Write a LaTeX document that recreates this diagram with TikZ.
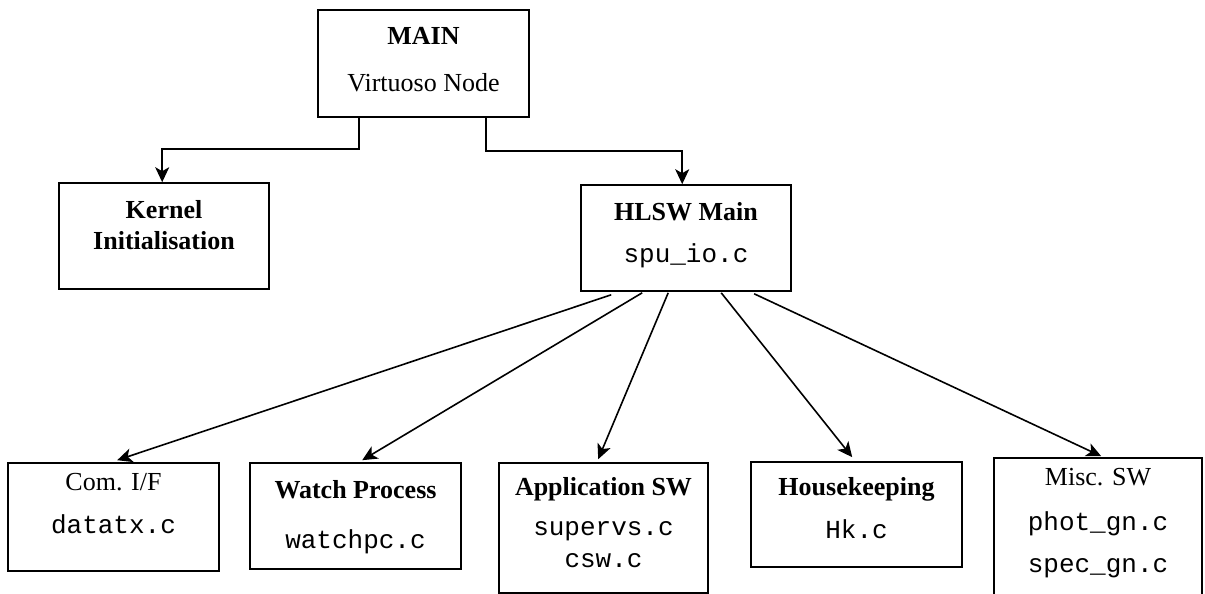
\documentclass[tikz,border=0pt]{standalone}
\usepackage{fontspec}
\setmainfont{Liberation Serif}
\setmonofont{Liberation Mono}
\usetikzlibrary{arrows.meta,calc}
\begin{document}
\begin{tikzpicture}[x=1pt,y=-1pt,
  box/.style={draw,line width=1.6pt,inner sep=0pt},
  txt/.style={anchor=base,inner sep=0pt,font=\fontsize{26}{30}\selectfont},
  btxt/.style={txt,font=\fontsize{26}{30}\selectfont\bfseries},
  ttxt/.style={txt,font=\fontsize{26}{30}\selectfont\ttfamily},
  conn/.style={line width=1.6pt,-{Stealth[length=15pt,width=14pt,inset=4pt]}}]
\useasboundingbox (0,0) rectangle (1205,594);
% boxes
\node[box,minimum width=211pt,minimum height=107pt] (main) at (423.5,63.5) {};
\node[box,minimum width=210pt,minimum height=106pt] (kern) at (164,236) {};
\node[box,minimum width=210pt,minimum height=106pt] (hlsw) at (686,238) {};
\node[box,minimum width=211pt,minimum height=108pt] (com) at (113.5,517) {};
\node[box,minimum width=211pt,minimum height=106pt] (watch) at (355.5,516) {};
\node[box,minimum width=209pt,minimum height=130pt] (app) at (603.5,528) {};
\node[box,minimum width=211pt,minimum height=105pt] (hk) at (856.5,514.5) {};
\node[box,minimum width=208pt,minimum height=182pt] (misc) at (1098,549) {};
% texts
\node[btxt] (mainA) at (423.5,45) {MAIN};
\node[txt] (mainB) at (423.5,92) {Virtuoso Node};
\node[btxt] (kernA) at (164,218) {Kernel};
\node[btxt] (kernB) at (164,249) {Initialisation};
\node[btxt] (hlswA) at (686,220) {HLSW Main};
\node[ttxt] (hlswB) at (686,262) {spu\_io.c};
\node[txt] (comA) at (113.5,490) {Com. I/F};
\node[ttxt] (comB) at (113.5,533) {datatx.c};
\node[btxt] (watchA) at (355.5,498) {Watch Process};
\node[ttxt] (watchB) at (355.5,548) {watchpc.c};
\node[btxt] (appA) at (603.5,495) {Application SW};
\node[ttxt] (appB) at (603.5,535) {supervs.c};
\node[ttxt] (appC) at (603.5,567) {csw.c};
\node[btxt] (hkA) at (856.5,495) {Housekeeping};
\node[ttxt] (hkB) at (856.5,538) {Hk.c};
\node[txt] (miscA) at (1098,485) {Misc. SW};
\node[ttxt] (miscB) at (1098,530) {phot\_gn.c};
\node[ttxt] (miscC) at (1098,572) {spec\_gn.c};
% connectors
\draw[conn] ($(main.south west)+(42,0)$) -- ++(0,31) -| ($(kern.north west)+(104,0)$);
\draw[conn] ($(main.south west)+(169,0)$) -- ++(0,33) -| ($(hlsw.north west)+(102,0)$);
\draw[conn] ($(hlsw.south west)+(31,3)$) -- ($(com.north west)+(110,-2)$);
\draw[conn] ($(hlsw.south west)+(62,1)$) -- ($(watch.north west)+(113,-2)$);
\draw[conn] ($(hlsw.south west)+(88,1)$) -- ($(app.north west)+(100,-3)$);
\draw[conn] ($(hlsw.south west)+(141,1)$) -- ($(hk.north west)+(102,-4)$);
\draw[conn] ($(hlsw.south west)+(174,2)$) -- ($(misc.north west)+(108,-1)$);
\end{tikzpicture}
\end{document}
